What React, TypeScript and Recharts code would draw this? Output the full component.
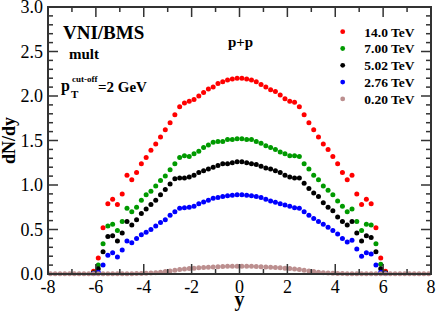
import { ScatterChart, Scatter, XAxis, YAxis, Legend } from 'recharts';

// rapidity bins (bin centres)
const rapidity = [
  -6.1, -5.9, -5.7, -5.5, -5.3, -5.1, -4.9, -4.7, -4.5, -4.3, -4.1, -3.9, -3.7, -3.5, -3.3, -3.1,
  -2.9, -2.7, -2.5, -2.3, -2.1, -1.9, -1.7, -1.5, -1.3, -1.1, -0.9, -0.7, -0.5, -0.3, -0.1,
  0.1, 0.3, 0.5, 0.7, 0.9, 1.1, 1.3, 1.5, 1.7, 1.9, 2.1, 2.3, 2.5, 2.7, 2.9, 3.1,
  3.3, 3.5, 3.7, 3.9, 4.1, 4.3, 4.5, 4.7, 4.9, 5.1, 5.3, 5.5, 5.7, 5.9, 6.1,
];
const rapidityWide = [
  -7.9, -7.7, -7.5, -7.3, -7.1, -6.9, -6.7, -6.5, -6.3, -6.1, -5.9, -5.7, -5.5, -5.3, -5.1, -4.9,
  -4.7, -4.5, -4.3, -4.1, -3.9, -3.7, -3.5, -3.3, -3.1, -2.9, -2.7, -2.5, -2.3, -2.1, -1.9, -1.7,
  -1.5, -1.3, -1.1, -0.9, -0.7, -0.5, -0.3, -0.1,
  0.1, 0.3, 0.5, 0.7, 0.9, 1.1, 1.3, 1.5, 1.7, 1.9, 2.1, 2.3, 2.5, 2.7, 2.9, 3.1,
  3.3, 3.5, 3.7, 3.9, 4.1, 4.3, 4.5, 4.7, 4.9, 5.1, 5.3, 5.5, 5.7, 5.9, 6.1, 6.3,
  6.5, 6.7, 6.9, 7.1, 7.3, 7.5, 7.7, 7.9,
];

const dndy14000 = [
  0.03, 0.18, 0.52, 0.79, 0.84, 0.78, 0.90, 1.11, 1.06, 1.14, 1.24, 1.31, 1.39, 1.46, 1.54, 1.62,
  1.70, 1.79, 1.88, 1.92, 1.94, 1.96, 2.00, 2.04, 2.08, 2.10, 2.14, 2.16, 2.18, 2.19, 2.20,
  2.20, 2.19, 2.18, 2.16, 2.13, 2.10, 2.07, 2.05, 2.01, 1.97, 1.94, 1.93, 1.88, 1.79, 1.70, 1.62,
  1.54, 1.46, 1.40, 1.32, 1.24, 1.14, 1.06, 1.11, 0.90, 0.78, 0.84, 0.79, 0.52, 0.18, 0.03,
];
const dndy7000 = [
  0.01, 0.10, 0.34, 0.54, 0.56, 0.49, 0.59, 0.74, 0.70, 0.75, 0.83, 0.89, 0.93, 0.99, 1.05, 1.10,
  1.17, 1.24, 1.31, 1.33, 1.32, 1.35, 1.38, 1.42, 1.45, 1.48, 1.49, 1.49, 1.51, 1.51, 1.52,
  1.52, 1.51, 1.51, 1.49, 1.47, 1.44, 1.42, 1.40, 1.37, 1.35, 1.33, 1.33, 1.32, 1.24, 1.18, 1.11,
  1.06, 0.99, 0.94, 0.89, 0.82, 0.76, 0.70, 0.73, 0.59, 0.49, 0.56, 0.55, 0.34, 0.11, 0.01,
];
const dndy5020 = [
  0.01, 0.06, 0.25, 0.42, 0.43, 0.37, 0.46, 0.59, 0.55, 0.61, 0.68, 0.73, 0.78, 0.83, 0.89, 0.95,
  1.01, 1.07, 1.08, 1.08, 1.09, 1.11, 1.14, 1.16, 1.18, 1.20, 1.22, 1.24, 1.24, 1.25, 1.26,
  1.26, 1.25, 1.24, 1.23, 1.21, 1.19, 1.18, 1.16, 1.14, 1.11, 1.09, 1.08, 1.08, 1.02, 0.96, 0.91,
  0.87, 0.80, 0.75, 0.71, 0.64, 0.59, 0.55, 0.59, 0.46, 0.37, 0.43, 0.41, 0.25, 0.06, 0.01,
];
const dndy2760 = [
  0.005, 0.02, 0.10, 0.21, 0.24, 0.19, 0.27, 0.37, 0.35, 0.40, 0.44, 0.47, 0.50, 0.54, 0.58, 0.61,
  0.66, 0.70, 0.74, 0.745, 0.75, 0.76, 0.79, 0.81, 0.83, 0.85, 0.86, 0.87, 0.88, 0.885, 0.89,
  0.89, 0.885, 0.88, 0.87, 0.86, 0.84, 0.82, 0.805, 0.79, 0.775, 0.76, 0.745, 0.74, 0.70, 0.66, 0.625,
  0.59, 0.56, 0.525, 0.49, 0.45, 0.40, 0.36, 0.38, 0.28, 0.20, 0.24, 0.225, 0.10, 0.02, 0.005,
];
const dndy200 = [
  0.003, 0.003, 0.003, 0.003, 0.003, 0.003, 0.003, 0.003, 0.003, 0.003, 0.003, 0.003, 0.004, 0.004,
  0.004, 0.004, 0.004, 0.004, 0.005, 0.006, 0.008, 0.010, 0.014, 0.020, 0.027, 0.035, 0.043, 0.050,
  0.056, 0.061, 0.065, 0.069, 0.073, 0.076, 0.079, 0.082, 0.084, 0.086, 0.087, 0.088,
  0.088, 0.087, 0.086, 0.084, 0.082, 0.079, 0.076, 0.073, 0.069, 0.065, 0.061, 0.056, 0.050, 0.043,
  0.035, 0.027, 0.020, 0.014, 0.010, 0.008, 0.006, 0.005, 0.004, 0.004, 0.004, 0.004, 0.004, 0.004,
  0.003, 0.003, 0.003, 0.003, 0.003, 0.003, 0.003, 0.003, 0.003, 0.003, 0.003, 0.003,
];

const xTicks = [-8, -7, -6, -5, -4, -3, -2, -1, 0, 1, 2, 3, 4, 5, 6, 7, 8];
const yTicks = [
  0, 0.1, 0.2, 0.3, 0.4, 0.5, 0.6, 0.7, 0.8, 0.9, 1.0, 1.1, 1.2, 1.3, 1.4, 1.5, 1.6, 1.7, 1.8, 1.9,
  2.0, 2.1, 2.2, 2.3, 2.4, 2.5, 2.6, 2.7, 2.8, 2.9, 3.0,
];

const series = [
  { name: '14.0 TeV', color: '#ff0000', xs: rapidity, ys: dndy14000 },
  { name: '7.00 TeV', color: '#009a00', xs: rapidity, ys: dndy7000 },
  { name: '5.02 TeV', color: '#000000', xs: rapidity, ys: dndy5020 },
  { name: '2.76 TeV', color: '#0000ff', xs: rapidity, ys: dndy2760 },
  { name: '0.20 TeV', color: '#bc8f8f', xs: rapidityWide, ys: dndy200 },
];

const SERIF = '"Liberation Serif", "Times New Roman", serif';
const AXIS = '#333';

const W = 436;
const H = 311;
const MARGIN = { top: 7, right: 5, bottom: 0, left: 0 };
const Y_AXIS_W = 48;
const X_AXIS_H = 37;
const X_DOMAIN = [-8, 8];
const Y_DOMAIN = [0, 3];

// plot box, same numbers the chart is laid out with (used for the frame only)
const box = {
  left: MARGIN.left + Y_AXIS_W,
  right: W - MARGIN.right,
  top: MARGIN.top,
  bottom: H - MARGIN.bottom - X_AXIS_H,
};
const px = (v: number) =>
  box.left + ((v - X_DOMAIN[0]) / (X_DOMAIN[1] - X_DOMAIN[0])) * (box.right - box.left);
const py = (v: number) =>
  box.bottom - ((v - Y_DOMAIN[0]) / (Y_DOMAIN[1] - Y_DOMAIN[0])) * (box.bottom - box.top);

const isMajorX = (v: number) => Math.abs(v % 2) < 1e-6;
const isMajorY = (v: number) => Math.abs(v * 2 - Math.round(v * 2)) < 1e-6;

const XTick = (props: any) => {
  const { x, y, payload } = props;
  const v = Number(payload.value);
  if (!isMajorX(v)) return <g />;
  return (
    <text x={x} y={y + 19} textAnchor="middle" fontFamily={SERIF} fontSize={18} fill="#000">
      {v}
    </text>
  );
};

const YTick = (props: any) => {
  const { x, y, payload } = props;
  const v = Number(payload.value);
  if (!isMajorY(v)) return <g />;
  return (
    <text x={x - 5} y={y + 6} textAnchor="end" fontFamily={SERIF} fontSize={18} fill="#000">
      {v.toFixed(1)}
    </text>
  );
};

// frame and inward ticks, drawn as filled bars
const FRAME = 2;
const TICK = 1.5;
const frameBars = () => {
  const bars: { x: number; y: number; w: number; h: number }[] = [];
  const f = FRAME / 2;
  bars.push({ x: box.left - f, y: box.top - f, w: box.right - box.left + FRAME, h: FRAME });
  bars.push({ x: box.left - f, y: box.bottom - f, w: box.right - box.left + FRAME, h: FRAME });
  bars.push({ x: box.left - f, y: box.top - f, w: FRAME, h: box.bottom - box.top + FRAME });
  bars.push({ x: box.right - f, y: box.top - f, w: FRAME, h: box.bottom - box.top + FRAME });
  xTicks.forEach((v) => {
    const len = isMajorX(v) ? 10 : 5;
    const x = px(v) - TICK / 2;
    bars.push({ x, y: box.bottom - len, w: TICK, h: len });
    bars.push({ x, y: box.top, w: TICK, h: len });
  });
  yTicks.forEach((v) => {
    const len = isMajorY(v) ? 10 : 5;
    const y = py(v) - TICK / 2;
    bars.push({ x: box.left, y, w: len, h: TICK });
    bars.push({ x: box.right - len, y, w: len, h: TICK });
  });
  return bars;
};

const seriesOrder = series.map((s) => s.name);

const renderLegend = (props: any) => {
  const items = [...(props.payload || [])].sort(
    (a: any, b: any) => seriesOrder.indexOf(a.value) - seriesOrder.indexOf(b.value)
  );
  return (
    <svg width={100} height={95}>
      {items.map((it: any, i: number) => (
        <g key={it.value}>
          <circle cx={12.7} cy={11.7 + i * 16.8} r={2.4} fill={it.color} />
          <text
            x={34.3}
            y={16.6 + i * 16.8}
            fontFamily={SERIF}
            fontWeight="bold"
            fontSize={13.5}
            fill="#000"
          >
            {it.value}
          </text>
        </g>
      ))}
    </svg>
  );
};

const bold = { fontFamily: SERIF, fontWeight: 'bold' as const, fill: '#000' };

const App = () => {
  return (
    <div style={{ position: 'absolute', left: 0, top: 0, width: W, height: H, background: '#fff' }}>
      <ScatterChart width={W} height={H} margin={MARGIN}>
        <XAxis
          type="number"
          dataKey="x"
          domain={X_DOMAIN}
          ticks={xTicks}
          interval={0}
          height={X_AXIS_H}
          tickSize={0}
          tickMargin={0}
          tickLine={false}
          tick={<XTick />}
          axisLine={false}
          label={{ value: 'y', position: 'insideBottom', offset: 5, style: { ...bold, fontSize: 20 } }}
        />
        <YAxis
          type="number"
          dataKey="y"
          domain={Y_DOMAIN}
          ticks={yTicks}
          interval={0}
          width={Y_AXIS_W}
          tickSize={0}
          tickMargin={0}
          tickLine={false}
          tick={<YTick />}
          axisLine={false}
          label={{
            value: 'dN/dy',
            angle: -90,
            position: 'insideLeft',
            offset: 9,
            style: { ...bold, fontSize: 18, textAnchor: 'middle' },
          }}
        />
        <Legend
          layout="vertical"
          align="center"
          verticalAlign="middle"
          content={renderLegend}
          wrapperStyle={{ left: 330, top: 20, width: 100, height: 95 }}
        />
        {series.map((s) => (
          <Scatter
            key={s.name}
            name={s.name}
            data={s.xs.map((x, i) => ({ x, y: s.ys[i] }))}
            fill={s.color}
            isAnimationActive={false}
            shape={(p: any) => <circle cx={p.cx} cy={p.cy} r={2.5} fill={s.color} />}
          />
        ))}
      </ScatterChart>
      <svg width={W} height={H} style={{ position: 'absolute', left: 0, top: 0, pointerEvents: 'none' }}>
        {frameBars().map((b, i) => (
          <rect key={i} x={b.x} y={b.y} width={b.w} height={b.h} fill={AXIS} />
        ))}
        <text x={63} y={38.5} {...bold} fontSize={19}>VNI/BMS</text>
        <text x={69} y={58.5} {...bold} fontSize={15}>mult</text>
        <text x={61} y={91} {...bold} fontSize={16}>p</text>
        <text x={71} y={98} {...bold} fontSize={11}>T</text>
        <text x={72} y={81.5} {...bold} fontSize={9}>cut-off</text>
        <text x={98} y={91.5} {...bold} fontSize={15}>=2 GeV</text>
        <text x={240.5} y={47} {...bold} fontSize={15} textAnchor="middle">p+p</text>
      </svg>
    </div>
  );
};

export default App;
